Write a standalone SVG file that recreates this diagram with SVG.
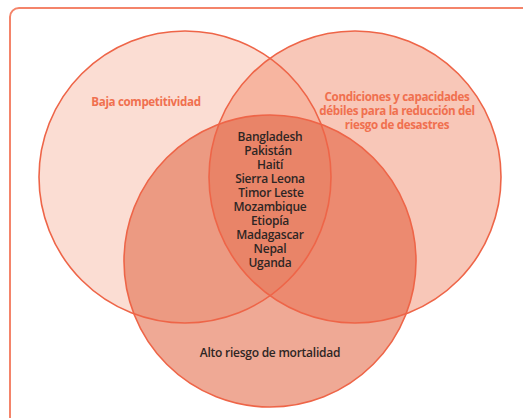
<svg xmlns="http://www.w3.org/2000/svg" width="523" height="418" viewBox="0 0 523 418">
  <style>
    .ring { fill: none; stroke: #EE6548; stroke-width: 1.6; }
    .set-label { font-family: "Open Sans", "Liberation Sans", sans-serif; font-weight: 700; font-size: 11.6px; fill: #F0704F; text-anchor: middle; letter-spacing: -0.35px; }
    .dark-label { font-family: "Open Sans", "Liberation Sans", sans-serif; font-weight: 600; font-size: 12px; fill: #2E2624; text-anchor: middle; letter-spacing: -0.25px; }
  </style>
  <defs>
    <clipPath id="clipL"><circle cx="185" cy="177" r="146"/></clipPath>
    <clipPath id="clipR"><circle cx="355" cy="177" r="146"/></clipPath>
  </defs>

  <rect width="523" height="418" fill="#FFFFFF"/>
  <!-- outer frame, open towards the right and bottom edges -->
  <rect x="10" y="8" width="530" height="430" rx="9" fill="none" stroke="#F4846A" stroke-width="2"/>

  <!-- set fills -->
  <g id="set-baja">
    <circle cx="185" cy="177" r="146" fill="#FBDDD3"/>
  </g>
  <g id="set-condiciones">
    <circle cx="355" cy="177" r="146" fill="#F8C7B8"/>
  </g>
  <g id="set-mortalidad">
    <circle cx="270" cy="261" r="146" fill="#EFA995"/>
  </g>

  <!-- overlap regions -->
  <g id="overlaps">
    <circle cx="355" cy="177" r="146" fill="#F7B5A0" clip-path="url(#clipL)"/>
    <circle cx="270" cy="261" r="146" fill="#EC9A82" clip-path="url(#clipL)"/>
    <circle cx="270" cy="261" r="146" fill="#EC8A70" clip-path="url(#clipR)"/>
    <g clip-path="url(#clipL)">
      <circle cx="270" cy="261" r="146" fill="#E98468" clip-path="url(#clipR)"/>
    </g>
  </g>

  <!-- outlines -->
  <g id="outlines">
    <circle class="ring" cx="185" cy="177" r="146"/>
    <circle class="ring" cx="355" cy="177" r="146"/>
    <circle class="ring" cx="270" cy="261" r="146"/>
  </g>

  <!-- labels -->
  <text class="set-label" x="146" y="105.5">Baja competitividad</text>
  <text class="set-label" x="397" y="101">Condiciones y capacidades</text>
  <text class="set-label" x="397" y="115">débiles para la reducción del</text>
  <text class="set-label" x="397" y="129">riesgo de desastres</text>
  <text class="dark-label" x="270" y="357">Alto riesgo de mortalidad</text>

  <g id="center-list">
    <text class="dark-label" x="270" y="141">Bangladesh</text>
    <text class="dark-label" x="268" y="155">Pakistán</text>
    <text class="dark-label" x="270" y="169">Haití</text>
    <text class="dark-label" x="270" y="183">Sierra Leona</text>
    <text class="dark-label" x="271" y="197">Timor Leste</text>
    <text class="dark-label" x="270" y="211">Mozambique</text>
    <text class="dark-label" x="270" y="225">Etiopía</text>
    <text class="dark-label" x="270" y="239">Madagascar</text>
    <text class="dark-label" x="270" y="253">Nepal</text>
    <text class="dark-label" x="270" y="267">Uganda</text>
  </g>
</svg>
